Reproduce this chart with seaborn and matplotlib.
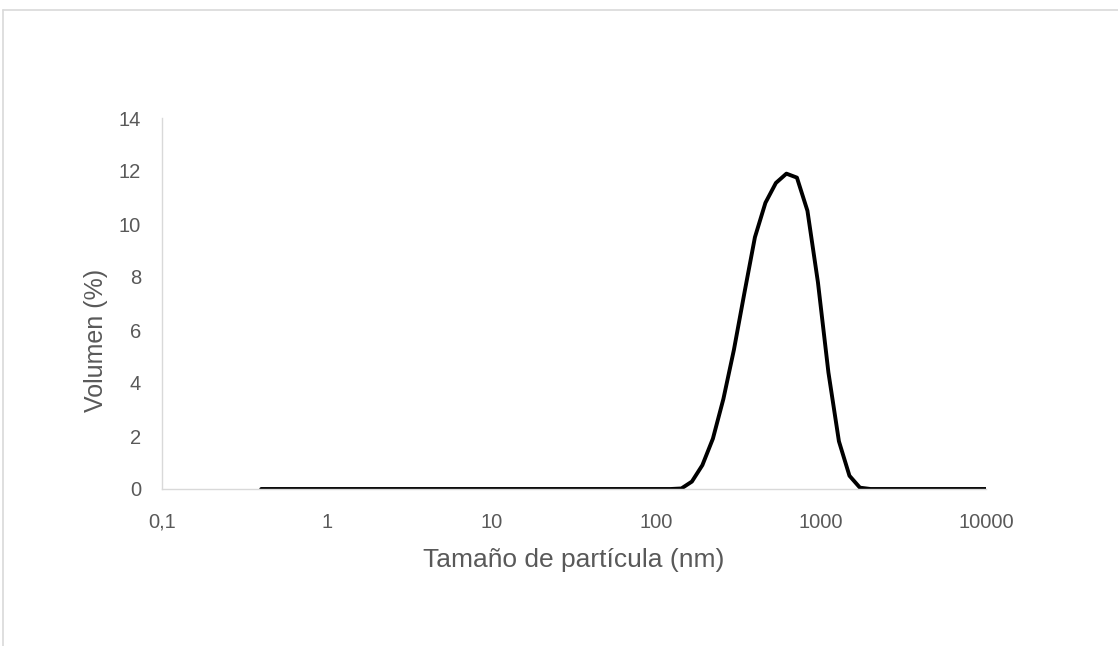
import matplotlib
matplotlib.use("Agg")
import matplotlib.pyplot as plt
from matplotlib.lines import Line2D
import seaborn as sns
import pandas as pd

# Particle size bins (nm)
size_nm = [0.4000, 0.4632, 0.5365, 0.6213, 0.7195, 0.8332, 0.9649, 1.117, 1.294, 1.499,
           1.736, 2.010, 2.328, 2.696, 3.122, 3.615, 4.187, 4.849, 5.615, 6.503,
           7.531, 8.721, 10.10, 11.70, 13.54, 15.69, 18.17, 21.04, 24.36, 28.21,
           32.67, 37.84, 43.82, 50.75, 58.77, 68.06, 78.82, 91.28, 105.7, 122.4,
           141.8, 164.2, 190.1, 220.2, 255.0, 295.3, 342.0, 396.1, 458.7, 531.2,
           615.1, 712.4, 825.0, 955.4, 1106, 1281, 1484, 1718, 1990, 2305,
           2669, 3091, 3580, 4145, 4801, 5560, 6439, 7456, 8635, 10000]
# Volume (%)
volume = [0] * 40 + [0.02, 0.28, 0.9, 1.9, 3.4, 5.25, 7.4, 9.5, 10.8, 11.55,
                     11.9, 11.75, 10.5, 7.8, 4.4, 1.8, 0.5, 0.05, 0, 0,
                     0, 0, 0, 0, 0, 0, 0, 0, 0, 0]

x_ticks = [0.1, 1, 10, 100, 1000, 10000]
x_tick_labels = ["0,1", "1", "10", "100", "1000", "10000"]
y_ticks = [0, 2, 4, 6, 8, 10, 12, 14]

df = pd.DataFrame({"size": size_nm, "vol": volume})

sns.set_style("white")
plt.rcParams["font.family"] = ["Liberation Sans", "DejaVu Sans"]

fig = plt.figure(figsize=(11.18, 6.46), dpi=100)
ax = fig.add_axes([162 / 1118, 1 - 489 / 646, (986 - 162) / 1118, (489 - 118) / 646])

sns.lineplot(data=df, x="size", y="vol", ax=ax, color="black", linewidth=2.8)

ax.set_xscale("log")
ax.set_xlim(0.1, 10000)
ax.set_ylim(0, 14)
ax.set_xticks(x_ticks)
ax.set_xticklabels(x_tick_labels)
ax.minorticks_off()
ax.set_yticks(y_ticks)
ax.tick_params(axis="both", length=0, labelsize=14.5, colors="#595959")
ax.tick_params(axis="x", pad=17)
ax.tick_params(axis="y", pad=15)

for s in ["top", "right"]:
    ax.spines[s].set_visible(False)
for s in ["left", "bottom"]:
    ax.spines[s].set_color("#d9d9d9")
    ax.spines[s].set_linewidth(1.0)

ax.set_xlabel("Tamaño de partícula (nm)", fontsize=19, color="#595959", labelpad=12)
ax.set_ylabel("Volumen (%)", fontsize=18, color="#595959")
ax.yaxis.set_label_coords(-0.066, 0.40)

# chart-area border (partially visible)
W, H = 1118, 646
fig.add_artist(Line2D([3 / W, 1], [1 - 9.5 / H, 1 - 9.5 / H], transform=fig.transFigure, color="#d9d9d9", linewidth=1.2))
fig.add_artist(Line2D([3 / W, 3 / W], [0, 1 - 9.5 / H], transform=fig.transFigure, color="#d9d9d9", linewidth=1.2))

fig.savefig("out.png", dpi=100)
